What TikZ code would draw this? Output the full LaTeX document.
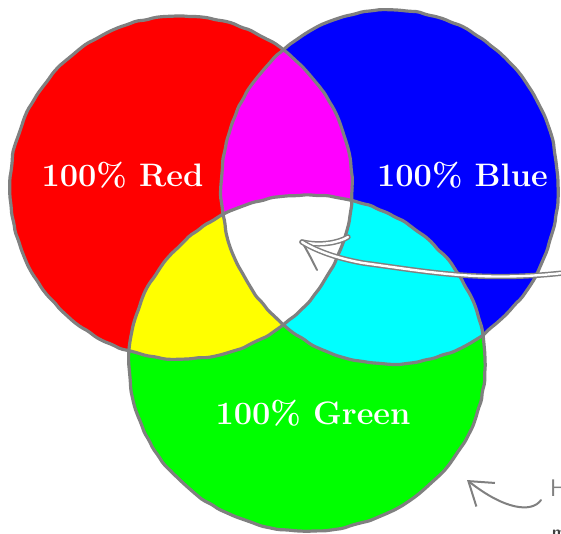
\documentclass[tikz,border=0pt]{standalone}
\usetikzlibrary{decorations.pathmorphing,arrows.meta}
\definecolor{linegray}{RGB}{128,128,128}
\definecolor{pred}{RGB}{255,0,0}
\definecolor{pgreen}{RGB}{0,255,0}
\definecolor{pblue}{RGB}{0,0,255}
\definecolor{pmagenta}{RGB}{255,0,255}
\definecolor{pyellow}{RGB}{255,255,0}
\definecolor{pcyan}{RGB}{0,255,255}
\tikzset{
  outline/.style={draw=linegray,line width=3.2pt,decorate,
    decoration={random steps,segment length=9pt,amplitude=0.7pt},rounded corners=2pt},
  mixlabel/.style={text=white,font=\fontsize{32.5}{32}\selectfont\bfseries},
  pointer/.style={draw=linegray,line width=2pt,line cap=round,line join=round},
  hollow/.style={draw=linegray,line width=1.5pt,double=white,double distance=2.4pt,line cap=round}
}
\begin{document}
\begin{tikzpicture}[x=1pt,y=-1pt]
\useasboundingbox (0,0) rectangle (561,533);
\clip (0,0) rectangle (561,533);
\coordinate (red) at (181,187.5);
\coordinate (blue) at (389.5,187);
\coordinate (green) at (307,363);
% the three primaries
\fill[pred] (red) ellipse[x radius=171pt,y radius=171.5pt];
\fill[pblue] (blue) ellipse[x radius=168.5pt,y radius=177pt];
\fill[pgreen] (green) ellipse[x radius=178pt,y radius=168pt];
% where two of them overlap
\begin{scope}
\clip (red) ellipse[x radius=171pt,y radius=171.5pt];
\fill[pmagenta] (blue) ellipse[x radius=168.5pt,y radius=177pt];
\fill[pyellow] (green) ellipse[x radius=178pt,y radius=168pt];
\end{scope}
\begin{scope}
\clip (blue) ellipse[x radius=168.5pt,y radius=177pt];
\fill[pcyan] (green) ellipse[x radius=178pt,y radius=168pt];
\end{scope}
% all three
\begin{scope}
\clip (red) ellipse[x radius=171pt,y radius=171.5pt];
\clip (blue) ellipse[x radius=168.5pt,y radius=177pt];
\fill[white] (green) ellipse[x radius=178pt,y radius=168pt];
\end{scope}
\draw[outline] (red) ellipse[x radius=171pt,y radius=171.5pt];
\draw[outline] (blue) ellipse[x radius=168.5pt,y radius=177pt];
\draw[outline] (green) ellipse[x radius=178pt,y radius=168pt];
\node[mixlabel] (redlabel) at (122.5,175) {100\% Red};
\node[mixlabel] (bluelabel) at (462.5,175) {100\% Blue};
\node[mixlabel] (greenlabel) at (313,413) {100\% Green};
% pointer into the white middle
\coordinate (whitespot) at (302,242);
\coordinate (margin) at (563,273);
\coordinate (barbup) at (348,237);
\coordinate (barbdown) at (317,270);
\draw[pointer] (whitespot) .. controls (308,252) and (313,262) .. (barbdown);
\draw[hollow] (whitespot) .. controls (320,246) and (338,243) .. (barbup);
\draw[hollow] (margin) .. controls (480,282) and (430,272) .. (363,263)
  .. controls (335,258) and (315,250) .. (whitespot);
% note at the bottom right
\coordinate (greenedge) at (467,480);
\coordinate (note) at (541,500);
\draw[pointer,-{Straight Barb[length=22pt,width=30pt]}] (note) .. controls (532,513) and (505,510) .. (greenedge);
\node[anchor=base west,inner sep=0pt,text=linegray,font=\sffamily\fontsize{24}{24}\selectfont] (notetext) at (550,496) {H};
\node[anchor=base west,inner sep=0pt,text=darkgray,font=\sffamily\bfseries\fontsize{16}{16}\selectfont] (notemore) at (552,537) {m};
\end{tikzpicture}
\end{document}
